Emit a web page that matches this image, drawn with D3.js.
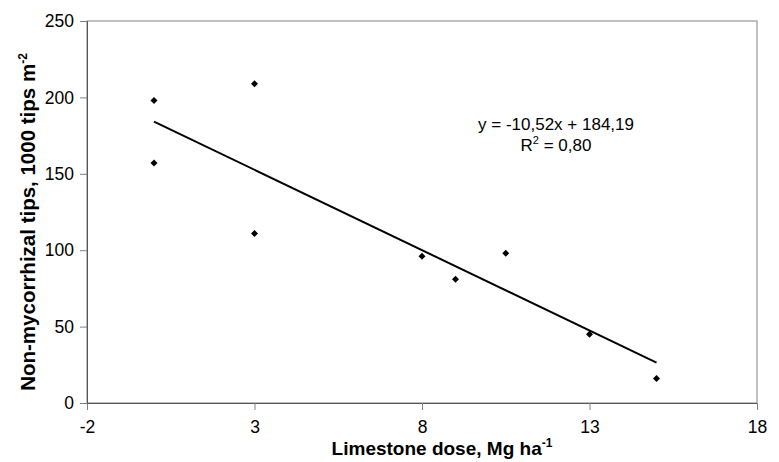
<!DOCTYPE html>
<html>
<head>
<meta charset="utf-8">
<script src="https://cdn.jsdelivr.net/npm/d3@7"></script>
<style>
body { margin: 0; background: #fff; }
text { font-family: "Liberation Sans", Arial, sans-serif; }
</style>
</head>
<body>
<svg id="chart"></svg>
<script>
const width = 779;
const height = 462;
const margin = {top: 21, right: 22, bottom: 59, left: 87};

// limestone dose (Mg/ha) and non-mycorrhizal tips (1000 tips/m2)
const doses = [0, 0, 3, 3, 8, 9, 10.5, 13, 15];
const tips = [198, 157, 209, 111, 96, 81, 98, 45, 16];
const xTicks = [-2, 3, 8, 13, 18];
const yTicks = [0, 50, 100, 150, 200, 250];
const trend = {slope: -10.52, intercept: 184.19, from: 0, to: 15};

let svg = d3.select("#chart").attr("width", width).attr("height", height);
let g = svg.append("g").attr("transform", "translate(" + margin.left + "," + margin.top + ")");
const w = width - margin.left - margin.right;
const h = height - margin.top - margin.bottom;

const x = d3.scaleLinear().domain([-2, 18]).range([0, w]);
const y = d3.scaleLinear().domain([0, 250]).range([h, 0]);

// plot frame
g.append("rect")
    .attr("width", w).attr("height", h)
    .attr("fill", "none").attr("stroke", "#808080").attr("stroke-width", 1);

let xAxis = g.append("g")
    .attr("transform", "translate(0," + h + ")")
    .call(d3.axisBottom(x).tickValues(xTicks).tickFormat(d => String(d)).tickSize(7).tickPadding(11));
let yAxis = g.append("g")
    .call(d3.axisLeft(y).tickValues(yTicks).tickFormat(d => String(d)).tickSize(7).tickPadding(6));

[xAxis, yAxis].forEach(a => {
    a.attr("font-size", null).attr("font-family", null);
    a.select(".domain").attr("stroke", "#555");
    a.selectAll(".tick line").attr("stroke", "#808080");
    a.selectAll("text").attr("fill", "#000")
        .style("font-size", "17.5px")
        .style("font-family", "'Liberation Sans', Arial, sans-serif");
});

// trend line
g.append("line")
    .attr("x1", x(trend.from)).attr("y1", y(trend.intercept + trend.slope * trend.from))
    .attr("x2", x(trend.to)).attr("y2", y(trend.intercept + trend.slope * trend.to))
    .attr("stroke", "#000").attr("stroke-width", 2);

// points as small diamonds
g.selectAll("path.pt")
    .data(doses)
    .enter()
    .append("path")
    .attr("class", "pt")
    .attr("d", "M0,-3.5L3.5,0L0,3.5L-3.5,0Z")
    .attr("transform", (d, i) => "translate(" + x(d) + "," + y(tips[i]) + ")")
    .attr("fill", "#000");

// equation
svg.append("text")
    .attr("x", 556).attr("y", 130)
    .attr("text-anchor", "middle")
    .style("font-size", "17px")
    .text("y = -10,52x + 184,19");
let r2 = svg.append("text")
    .attr("x", 556).attr("y", 151)
    .attr("text-anchor", "middle")
    .style("font-size", "17px");
r2.append("tspan").text("R");
r2.append("tspan").attr("dy", -7).style("font-size", "11px").text("2");
r2.append("tspan").attr("dy", 7).text(" = 0,80");

// axis titles
let xt = svg.append("text")
    .attr("x", 442)
    .attr("y", 455)
    .attr("text-anchor", "middle")
    .style("font-size", "19px")
    .attr("font-weight", "bold");
xt.append("tspan").text("Limestone dose, Mg ha");
xt.append("tspan").attr("dy", -8).style("font-size", "12px").text("-1");

let yt = svg.append("text")
    .attr("transform", "translate(35,222) rotate(-90)")
    .attr("text-anchor", "middle")
    .style("font-size", "20.5px")
    .attr("font-weight", "bold");
yt.append("tspan").text("Non-mycorrhizal tips, 1000 tips m");
yt.append("tspan").attr("dy", -8).style("font-size", "12px").text("-2");
</script>
</body>
</html>
